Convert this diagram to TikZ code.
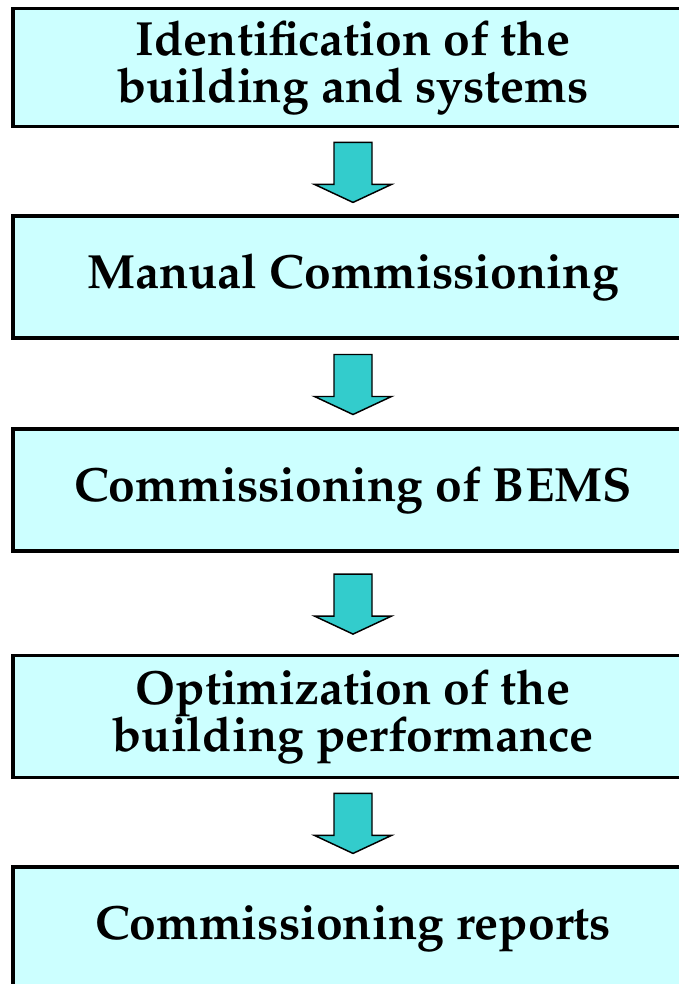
\documentclass[tikz,border=0pt]{standalone}
\usepackage[T1]{fontenc}
\usepackage{mathpazo}
\usetikzlibrary{calc}

\definecolor{boxcyan}{RGB}{204,255,255}
\definecolor{arrowteal}{RGB}{51,204,204}

\tikzset{
  stepbox/.style={draw, line width=2.4pt, fill=boxcyan, minimum width=510pt,
    minimum height=91.5pt, align=center, inner sep=0pt,
    font=\fontsize{36}{35.5}\selectfont\bfseries},
  blockarrow/.style={draw, line width=1.1pt, fill=arrowteal, line join=miter}
}

\begin{document}
\begin{tikzpicture}[x=0.75pt,y=0.75pt,yscale=-1,xscale=1]
\useasboundingbox (0,0) rectangle (678,984);

% Boxes
\node[stepbox, minimum height=89pt] (ident) at (353,67.5) {Identification of the\\building and systems};
\node[stepbox] (manual) at (353,277) {Manual Commissioning};
\node[stepbox] (bems) at (353,490) {Commissioning of BEMS};
\node[stepbox, minimum height=92pt] (optim) at (353,716.5) {Optimization of the\\building performance};
\node[stepbox, minimum height=93pt] (reports) at (353,929) {Commissioning reports};

% Block arrows
\foreach \a/\b in {ident/manual, manual/bems, bems/optim, optim/reports}
  \draw[blockarrow] ($(\a.south)!0.5!(\b.north)+(-19,-29)$) -- ++(38,0) -- ++(0,42)
    -- ++(19.5,0) -- ++(-38.5,18) -- ++(-38.5,-18) -- ++(19.5,0) -- cycle;

\end{tikzpicture}
\end{document}
